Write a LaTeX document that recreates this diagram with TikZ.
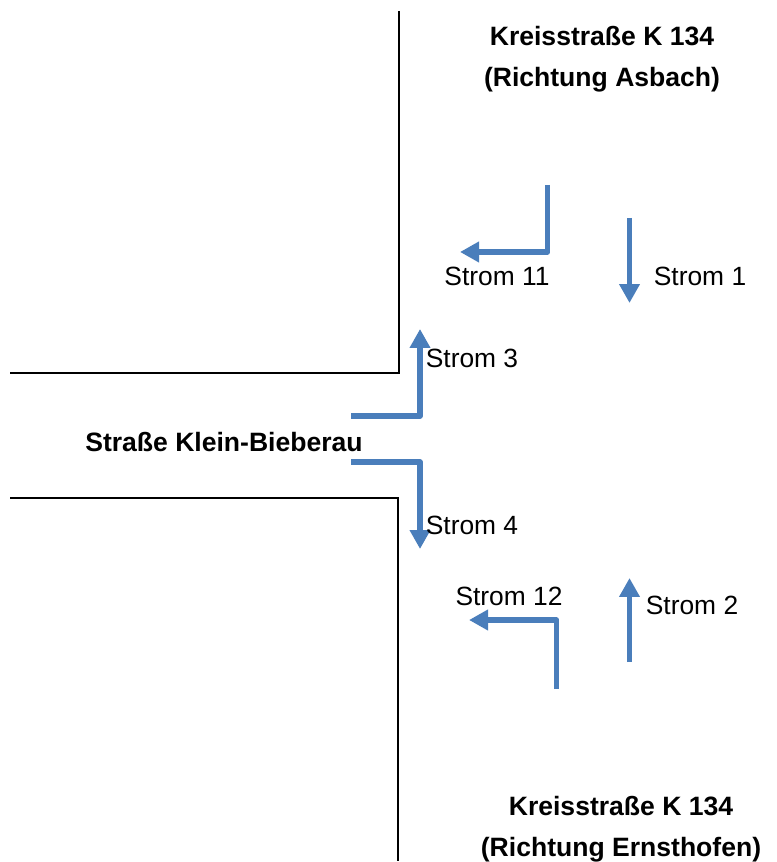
\documentclass[tikz,border=0pt]{standalone}
\usepackage{fontspec}
\setmainfont{Liberation Sans}
\usetikzlibrary{arrows.meta}
\tikzset{
	wall/.style={line width=.8pt,black},
	strom/.style={line width=1.6pt,line join=round,color={rgb,255:red,74;green,126;blue,187},-{Triangle[length=5.4pt,width=5.6pt]}},
	lbl/.style={inner sep=0pt,font=\fontsize{7.5pt}{9pt}\selectfont},
	titel/.style={inner sep=0pt,font=\fontsize{7.55pt}{9pt}\selectfont\bfseries}
}
\begin{document}
\begin{tikzpicture}[x=.01cm,y=-.01cm]
		\useasboundingbox (0,0) rectangle (776,862);
		% walls
		\coordinate (a1) at (399,11);
		\coordinate (a2) at (399,373);
		\coordinate (a3) at (10,373);
		\coordinate (b1) at (10,498);
		\coordinate (b2) at (398,498);
		\coordinate (b3) at (398,861);
		\draw[wall] (a1) -- (a2) -- (a3);
		\draw[wall] (b1) -- (b2) -- (b3);
		
		% streams
		\coordinate (s1a) at (629.5,218);
		\coordinate (s1b) at (629.5,303);
		\coordinate (s2a) at (629.5,662);
		\coordinate (s2b) at (629.5,578);
		\coordinate (s3a) at (351,416);
		\coordinate (s3b) at (420,416);
		\coordinate (s3c) at (420,329);
		\coordinate (s4a) at (351,462);
		\coordinate (s4b) at (420,462);
		\coordinate (s4c) at (420,549);
		\coordinate (s11a) at (547.5,185);
		\coordinate (s11b) at (547.5,252);
		\coordinate (s11c) at (460,252);
		\coordinate (s12a) at (556.5,689);
		\coordinate (s12b) at (556.5,620);
		\coordinate (s12c) at (469,620);
		\draw[strom] (s1a) -- (s1b);
		\draw[strom] (s2a) -- (s2b);
		\draw[strom] (s3a) -- (s3b) -- (s3c);
		\draw[strom] (s4a) -- (s4b) -- (s4c);
		\draw[strom] (s11a) -- (s11b) -- (s11c);
		\draw[strom] (s12a) -- (s12b) -- (s12c);
		
		% labels
		\node[lbl] (l1) at (700,276.5) {Strom 1};
		\node[lbl] (l2) at (692,605) {Strom 2};
		\node[lbl] (l3) at (472,358) {Strom 3};
		\node[lbl] (l4) at (472,525) {Strom 4};
		\node[lbl] (l11) at (497,276.5) {Strom 11};
		\node[lbl] (l12) at (509,596) {Strom 12};
		\node[titel] (t1) at (602,36) {Kreisstraße K 134};
		\node[titel] (t2) at (602,79.5) {(Richtung Asbach)};
		\node[titel] (t3) at (621,806) {Kreisstraße K 134};
		\node[titel] (t4) at (621,849.5) {(Richtung Ernsthofen)};
		\node[titel] (t5) at (224,442) {Straße Klein-Bieberau};
\end{tikzpicture}
\end{document}
